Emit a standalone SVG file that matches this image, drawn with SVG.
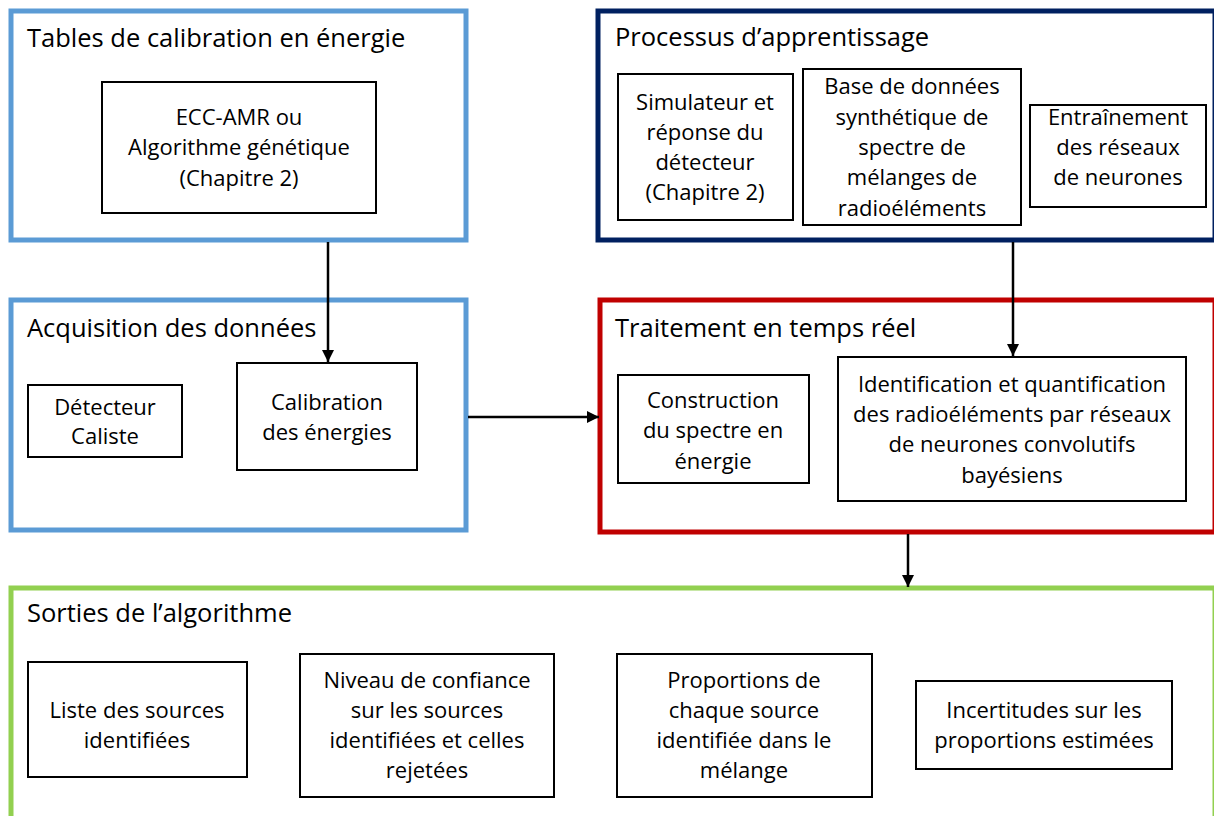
<svg xmlns="http://www.w3.org/2000/svg" width="1214" height="816" viewBox="0 0 1214 816">
<style>
.frame{fill:#fff;stroke-width:5}
.box{fill:#fff;stroke:#000;stroke-width:2}
.t{font-family:"Open Sans","Liberation Sans",sans-serif;font-size:25.5px;fill:#000}
.c{font-family:"Open Sans","Liberation Sans",sans-serif;font-size:22px;fill:#000;text-anchor:middle}
.conn{stroke:#000;stroke-width:2.5;fill:none;marker-end:url(#ah)}
</style>
<defs>
<marker id="ah" viewBox="0 0 10 10" refX="10" refY="5" markerWidth="5" markerHeight="5" orient="auto" markerUnits="strokeWidth">
<path d="M0,0 L10,5 L0,10 z" fill="#000"/>
</marker>
</defs>
<rect width="1214" height="816" fill="#fff"/>

<g id="tables">
<rect class="frame" x="11" y="11" width="455" height="229" stroke="#5B9BD5"/>
<text class="t" x="27" y="47">Tables de calibration en énergie</text>
<g id="ecc">
<rect class="box" x="102" y="82" width="274" height="131"/>
<text class="c" x="239" y="125">ECC-AMR ou</text>
<text class="c" x="239" y="155">Algorithme génétique</text>
<text class="c" x="239" y="186">(Chapitre 2)</text>
</g>
</g>

<g id="processus">
<rect class="frame" x="598" y="11" width="617" height="229" stroke="#002060"/>
<text class="t" x="615" y="46">Processus d’apprentissage</text>
<g id="simulateur">
<rect class="box" x="618" y="74" width="175" height="146"/>
<text class="c" x="705" y="110">Simulateur et</text>
<text class="c" x="705" y="140">réponse du</text>
<text class="c" x="705" y="170">détecteur</text>
<text class="c" x="705" y="200">(Chapitre 2)</text>
</g>
<g id="base">
<rect class="box" x="803" y="69" width="218" height="156"/>
<text class="c" x="912" y="94">Base de données</text>
<text class="c" x="912" y="125">synthétique de</text>
<text class="c" x="912" y="155">spectre de</text>
<text class="c" x="912" y="185">mélanges de</text>
<text class="c" x="912" y="216">radioéléments</text>
</g>
<g id="entrainement">
<rect class="box" x="1030" y="105" width="176" height="102"/>
<text class="c" x="1118" y="125">Entraînement</text>
<text class="c" x="1118" y="155">des réseaux</text>
<text class="c" x="1118" y="185">de neurones</text>
</g>
</g>

<g id="acquisition">
<rect class="frame" x="11" y="300" width="455" height="230" stroke="#5B9BD5"/>
<text class="t" x="27" y="337">Acquisition des données</text>
<g id="detecteur">
<rect class="box" x="28" y="385" width="154" height="72"/>
<text class="c" x="105" y="415">Détecteur</text>
<text class="c" x="105" y="444">Caliste</text>
</g>
<g id="calibration">
<rect class="box" x="237" y="363" width="180" height="107"/>
<text class="c" x="327" y="410">Calibration</text>
<text class="c" x="327" y="440">des énergies</text>
</g>
</g>

<g id="traitement">
<rect class="frame" x="600" y="300" width="615" height="232" stroke="#C00000"/>
<text class="t" x="615" y="337">Traitement en temps réel</text>
<g id="construction">
<rect class="box" x="618" y="375" width="191" height="108"/>
<text class="c" x="713" y="408">Construction</text>
<text class="c" x="713" y="438">du spectre en</text>
<text class="c" x="713" y="469">énergie</text>
</g>
<g id="identification">
<rect class="box" x="838" y="357" width="348" height="144"/>
<text class="c" x="1012" y="392">Identification et quantification</text>
<text class="c" x="1012" y="422">des radioéléments par réseaux</text>
<text class="c" x="1012" y="452">de neurones convolutifs</text>
<text class="c" x="1012" y="483">bayésiens</text>
</g>
</g>

<g id="sorties">
<rect class="frame" x="11" y="588" width="1204" height="232" stroke="#92D050"/>
<text class="t" x="27" y="622">Sorties de l’algorithme</text>
<g id="liste">
<rect class="box" x="28" y="662" width="219" height="115"/>
<text class="c" x="137" y="718">Liste des sources</text>
<text class="c" x="137" y="748">identifiées</text>
</g>
<g id="niveau">
<rect class="box" x="300" y="654" width="254" height="143"/>
<text class="c" x="427" y="688">Niveau de confiance</text>
<text class="c" x="427" y="718">sur les sources</text>
<text class="c" x="427" y="748">identifiées et celles</text>
<text class="c" x="427" y="778">rejetées</text>
</g>
<g id="proportions">
<rect class="box" x="617" y="654" width="255" height="143"/>
<text class="c" x="744" y="688">Proportions de</text>
<text class="c" x="744" y="718">chaque source</text>
<text class="c" x="744" y="748">identifiée dans le</text>
<text class="c" x="744" y="778">mélange</text>
</g>
<g id="incertitudes">
<rect class="box" x="916" y="681" width="256" height="88"/>
<text class="c" x="1044" y="718">Incertitudes sur les</text>
<text class="c" x="1044" y="748">proportions estimées</text>
</g>
</g>

<g id="connectors">
<line class="conn" x1="328" y1="242" x2="328" y2="362"/>
<line class="conn" x1="468" y1="417" x2="599" y2="417"/>
<line class="conn" x1="1013" y1="242" x2="1013" y2="356"/>
<line class="conn" x1="908" y1="534" x2="908" y2="587"/>
</g>
</svg>
